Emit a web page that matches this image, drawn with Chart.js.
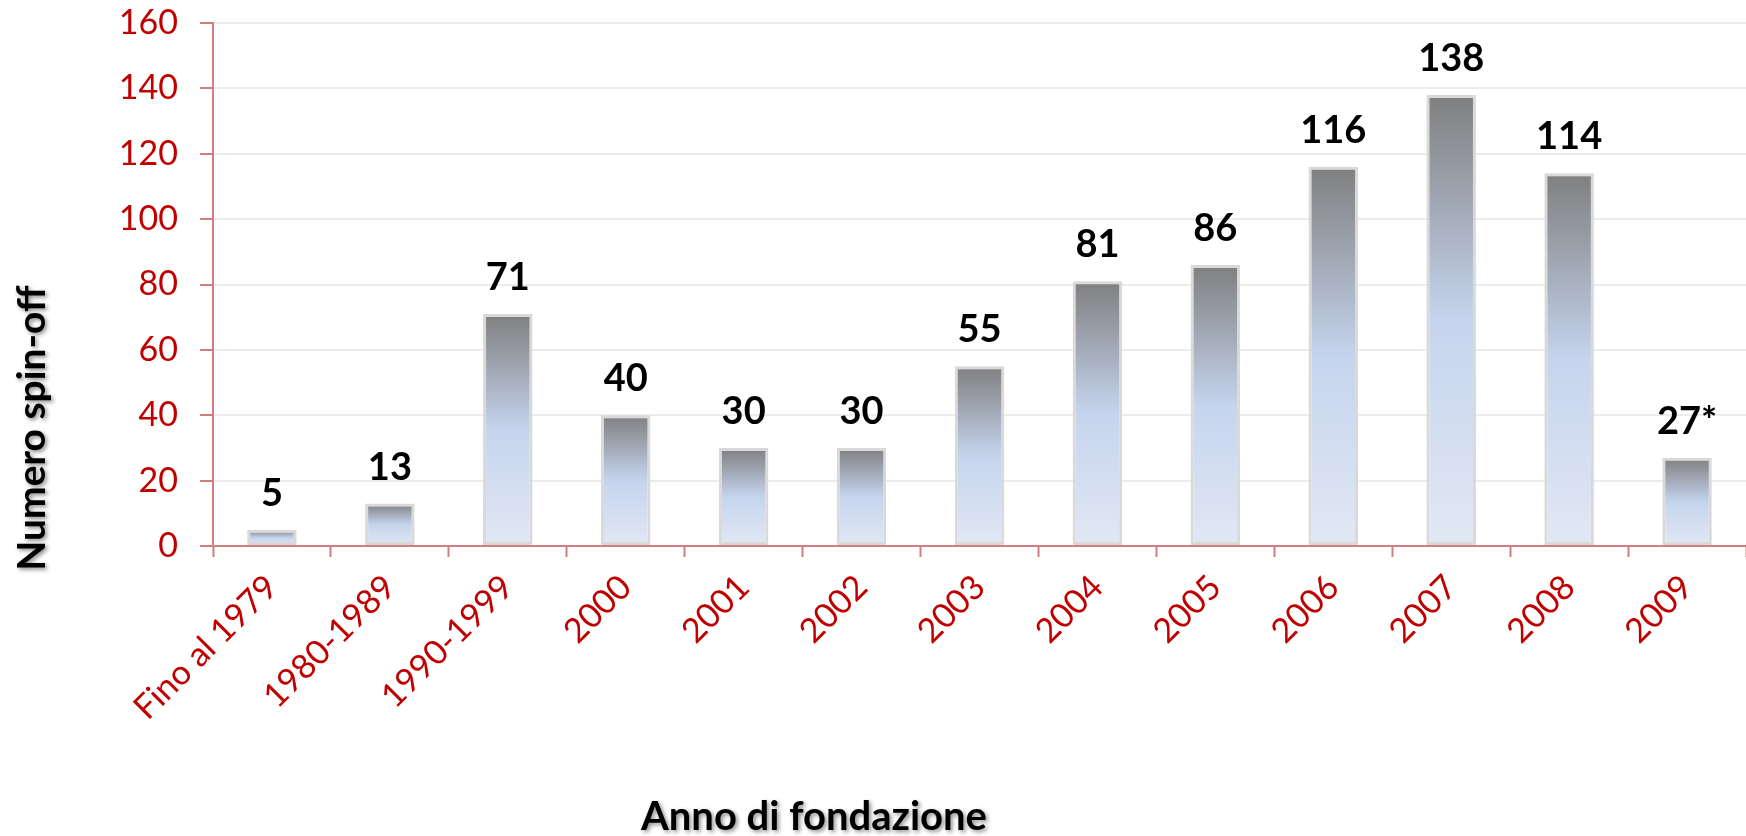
<!DOCTYPE html>
<html>
<head>
<meta charset="utf-8">
<script src="https://cdn.jsdelivr.net/npm/chart.js@4.4.1/dist/chart.umd.min.js"></script>
<style>
  html, body { margin: 0; padding: 0; background: #fff; }
  #wrap { width: 1746px; height: 836px; }
</style>
</head>
<body>
<div id="wrap"><canvas id="chart" width="1746" height="836"></canvas></div>
<script>
const categories = ["Fino al 1979", "1980-1989", "1990-1999", "2000", "2001", "2002", "2003", "2004", "2005", "2006", "2007", "2008", "2009"];
const spinoffs = [5, 13, 71, 40, 30, 30, 55, 81, 86, 116, 138, 114, 27];
const valueLabels = ["5", "13", "71", "40", "30", "30", "55", "81", "86", "116", "138", "114", "27*"];
const yTicks = [0, 20, 40, 60, 80, 100, 120, 140, 160];

const red = "#c00000";
const rose = "#cf7f7f";

// gradient inside each bar: dark grey at the top, light blue towards the base
function barGradient(context) {
  const chart = context.chart;
  if (!chart.chartArea || context.type !== "data") return "#c6d5ee";
  const y = chart.scales.y;
  const top = y.getPixelForValue(context.raw);
  const bottom = y.getPixelForValue(0);
  if (!isFinite(top) || bottom - top < 1) return "#c6d5ee";
  const g = chart.ctx.createLinearGradient(0, top, 0, bottom);
  g.addColorStop(0, "#7f7f7f");
  g.addColorStop(0.5, "#c5d4ee");
  g.addColorStop(1, "#e2e8f4");
  return g;
}

const valueLabelPlugin = {
  id: "valueLabels",
  afterDatasetsDraw(chart) {
    const ctx = chart.ctx;
    const meta = chart.getDatasetMeta(0);
    ctx.save();
    ctx.font = "bold 38px Lato";
    ctx.fillStyle = "#000";
    ctx.textAlign = "center";
    ctx.textBaseline = "alphabetic";
    meta.data.forEach((bar, i) => {
      ctx.fillText(valueLabels[i], bar.x, bar.y - 24);
    });
    ctx.restore();
  },
};

const axisTitlePlugin = {
  id: "axisTitles",
  afterDraw(chart) {
    const ctx = chart.ctx;
    ctx.save();
    ctx.font = "bold 40px Lato";
    ctx.fillStyle = "#000";
    ctx.textAlign = "center";
    ctx.textBaseline = "middle";
    ctx.shadowColor = "rgba(0,0,0,0.45)";
    ctx.shadowBlur = 4;
    ctx.shadowOffsetX = 2;
    ctx.shadowOffsetY = 2;
    ctx.fillText("Anno di fondazione", 814, 817);
    ctx.font = "bold 39px Lato";
    ctx.translate(32, 428);
    ctx.rotate(-Math.PI / 2);
    ctx.fillText("Numero spin-off", 0, 0);
    ctx.restore();
  },
};

new Chart(document.getElementById("chart").getContext("2d"), {
  type: "bar",
  data: {
    labels: categories,
    datasets: [
      {
        label: "Numero spin-off",
        data: spinoffs,
        backgroundColor: barGradient,
        borderColor: "#d9d9d9",
        borderWidth: 3,
        borderSkipped: false,
        categoryPercentage: 1,
        barPercentage: 0.42,
      },
    ],
  },
  options: {
    responsive: false,
    animation: false,
    layout: {
      padding: { top: 23, right: 0, bottom: 0, left: 0 },
    },
    plugins: {
      legend: { display: false },
      title: { display: false },
      tooltip: { enabled: false },
    },
    scales: {
      x: {
        afterFit: (scale) => {
          scale.height = 290;
          scale.paddingLeft = 0;
          scale.paddingRight = 0;
        },
        grid: {
          drawOnChartArea: false,
          offset: true,
          tickLength: 11,
          tickColor: rose,
          tickWidth: 2,
        },
        border: { color: rose, width: 2 },
        ticks: {
          color: red,
          font: { family: "Lato", size: 34 },
          minRotation: 45,
          maxRotation: 45,
          padding: 10,
          autoSkip: false,
        },
      },
      y: {
        min: 0,
        max: 160,
        afterFit: (scale) => {
          scale.width = 213;
          scale.paddingTop = 0;
          scale.paddingBottom = 0;
        },
        afterBuildTicks: (scale) => {
          scale.ticks = yTicks.map((v) => ({ value: v }));
        },
        grid: {
          color: "#ececec",
          lineWidth: 2,
          tickLength: 13,
          tickColor: rose,
          tickWidth: 2,
        },
        border: { color: rose, width: 2 },
        ticks: {
          color: red,
          font: { family: "Lato", size: 34 },
          padding: 22,
        },
      },
    },
  },
  plugins: [valueLabelPlugin, axisTitlePlugin],
});
</script>
</body>
</html>
